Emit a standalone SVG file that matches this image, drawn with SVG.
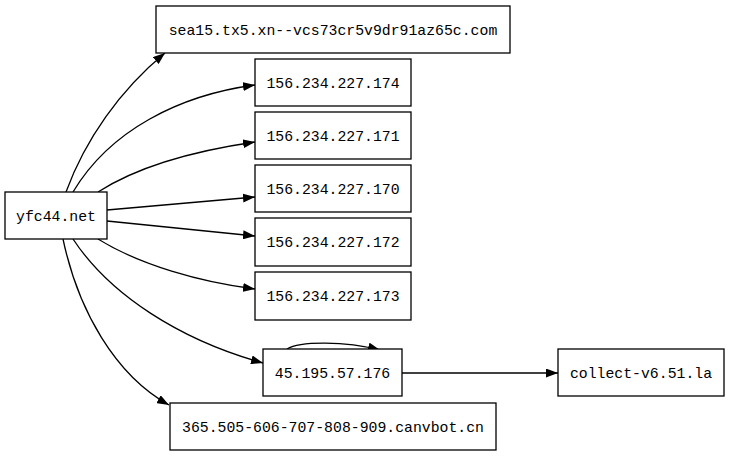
<svg xmlns="http://www.w3.org/2000/svg" width="731" height="456" viewBox="0 0 731 456">
<style>
.n rect{fill:#fff;stroke:#000;stroke-width:1.3}
.n text{font-family:"Liberation Mono","DejaVu Sans Mono",monospace;font-size:14.8px;text-anchor:middle;fill:#000}
.e path{fill:none;stroke:#000;stroke-width:1.3;marker-end:url(#ah)}
</style>
<defs>
<marker id="ah" markerUnits="userSpaceOnUse" markerWidth="12" markerHeight="9" refX="12" refY="4.5" orient="auto">
<path d="M0,0 L12,4.5 L0,9 z" fill="#000"/>
</marker>
</defs>
<rect width="731" height="456" fill="#fff"/>
<g id="edges" class="e">
<path d="M66,192 C85,140 120,90 165,53"/>
<path d="M73,192 C110,130 180,95 255,85"/>
<path d="M98,192 C140,165 200,150 255,142"/>
<path d="M107,210 L255,197"/>
<path d="M107,221 L255,236"/>
<path d="M98,239 C140,265 200,282 255,289"/>
<path d="M73,239 C110,295 180,340 263,363"/>
<path d="M63,239 C78,310 115,375 169,405"/>
<path d="M287,349 C300,341 345,341 380,350"/>
<path d="M402,373 L558,373"/>
</g>
<g id="yfc44" class="n"><rect x="5" y="192" width="102" height="47"/><text x="56" y="220.5">yfc44.net</text></g>
<g id="sea15" class="n"><rect x="156" y="6" width="354" height="47"/><text x="333" y="34.5">sea15.tx5.xn--vcs73cr5v9dr91az65c.com</text></g>
<g id="ip174" class="n"><rect x="255" y="59" width="156" height="47"/><text x="333" y="87.5">156.234.227.174</text></g>
<g id="ip171" class="n"><rect x="255" y="112" width="156" height="47"/><text x="333" y="140.5">156.234.227.171</text></g>
<g id="ip170" class="n"><rect x="255" y="165" width="156" height="47"/><text x="333" y="193.5">156.234.227.170</text></g>
<g id="ip172" class="n"><rect x="255" y="218" width="156" height="48"/><text x="333" y="247">156.234.227.172</text></g>
<g id="ip173" class="n"><rect x="255" y="272" width="156" height="48"/><text x="333" y="301">156.234.227.173</text></g>
<g id="ip45" class="n"><rect x="263" y="349" width="139" height="47"/><text x="332.5" y="377.5">45.195.57.176</text></g>
<g id="collect" class="n"><rect x="558" y="349" width="166" height="47"/><text x="641" y="377.5">collect-v6.51.la</text></g>
<g id="canvbot" class="n"><rect x="170" y="403" width="326" height="47"/><text x="333" y="431.5">365.505-606-707-808-909.canvbot.cn</text></g>
</svg>
